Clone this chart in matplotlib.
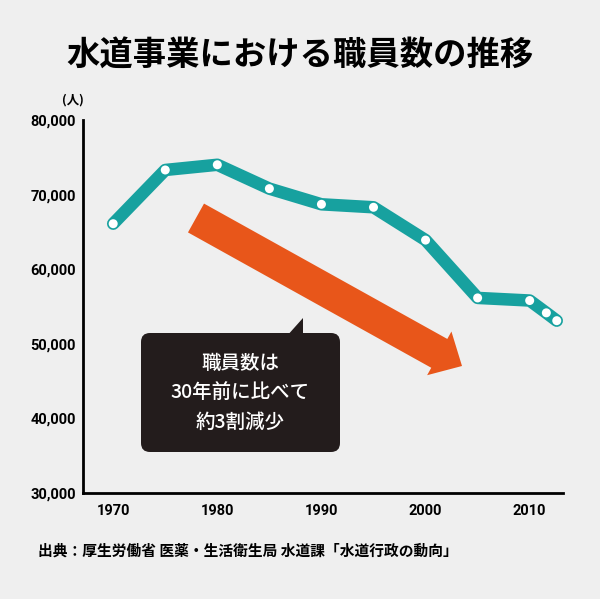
import matplotlib
matplotlib.use('Agg')
import matplotlib.pyplot as plt
import matplotlib.transforms as mtransforms
from matplotlib.patches import FancyBboxPatch, Polygon, FancyArrow
from matplotlib.ticker import FuncFormatter

# data
years = [1970, 1975, 1980, 1985, 1990, 1995, 2000, 2005, 2010, 2011.6, 2012.6]
staff = [66100, 73300, 74000, 70800, 68700, 68300, 63900, 56150, 55800, 54150, 53100]
xticks = [1970, 1980, 1990, 2000, 2010]
yticks = [30000, 40000, 50000, 60000, 70000, 80000]

title = '水道事業における職員数の推移'
unit = '(人)'
note = ['職員数は', '30年前に比べて', '約3割減少']
source = '出典：厚生労働省 医薬・生活衛生局 水道課「水道行政の動向」'

bg = '#efefef'
teal = '#17a19f'
orange = '#e8561a'
dark = '#231c1c'
jp = ['Noto Sans CJK JP', 'DejaVu Sans']
num = ['Roboto', 'DejaVu Sans']

fig = plt.figure(figsize=(6, 5.99), dpi=100, facecolor=bg)
# pixel coords with y pointing down, for the decorations
px = mtransforms.Affine2D().scale(1, -1).translate(0, 599)

ax = fig.add_axes([83 / 600, 1 - 493 / 599, 480 / 600, 373 / 599])
ax.set_facecolor(bg)
ax.set_xlim(1967.1, 2013.2)
ax.set_ylim(30000, 80000)

ax.plot(years, staff, color=teal, lw=9, solid_joinstyle='round',
        solid_capstyle='round', zorder=3, clip_on=False)
ax.scatter(years, staff, s=42, facecolor='white', edgecolor='none', zorder=4, clip_on=False)

for s in ['top', 'right']:
    ax.spines[s].set_visible(False)
for s in ['left', 'bottom']:
    ax.spines[s].set_linewidth(2)
    ax.spines[s].set_color('black')

ax.set_xticks(xticks)
ax.set_yticks(yticks)
ax.yaxis.set_major_formatter(FuncFormatter(lambda v, p: f'{v:,.0f}'))
ax.tick_params(length=0)
ax.tick_params(axis='y', pad=5)
ax.tick_params(axis='x', pad=8)
for lab in ax.get_xticklabels() + ax.get_yticklabels():
    lab.set_family(num)
    lab.set_weight('bold')
    lab.set_fontsize(10.5)

# orange arrow
arr = FancyArrow(196, 218, 266, 148, width=33, head_width=50, head_length=26,
                 length_includes_head=True, color=orange, lw=0, transform=px)
fig.add_artist(arr)

# callout
box = FancyBboxPatch((141, 333), 199, 119, boxstyle='round,pad=0,rounding_size=9',
                     facecolor=dark, edgecolor='none', transform=px)
fig.add_artist(box)
fig.add_artist(Polygon([(286, 337), (303, 318), (303, 337)], closed=True,
                       facecolor=dark, edgecolor='none', transform=px))
for i, line in enumerate(note):
    fig.text(240, 363 + i * 29.5, line, transform=px, ha='center', va='center',
             color='white', fontsize=14, weight='medium', family=jp)

fig.text(0.5, 1 - 55 / 599, title, ha='center', va='center', fontsize=24,
         weight='bold', family=jp)
fig.text(73 / 600, 1 - 100 / 599, unit, ha='center', va='center', fontsize=9,
         weight='bold', family=jp)
fig.text(38 / 600, 1 - 551 / 599, source, ha='left', va='center', fontsize=10.6,
         weight='bold', family=jp)

fig.savefig('out.png', dpi=100, facecolor=bg)
